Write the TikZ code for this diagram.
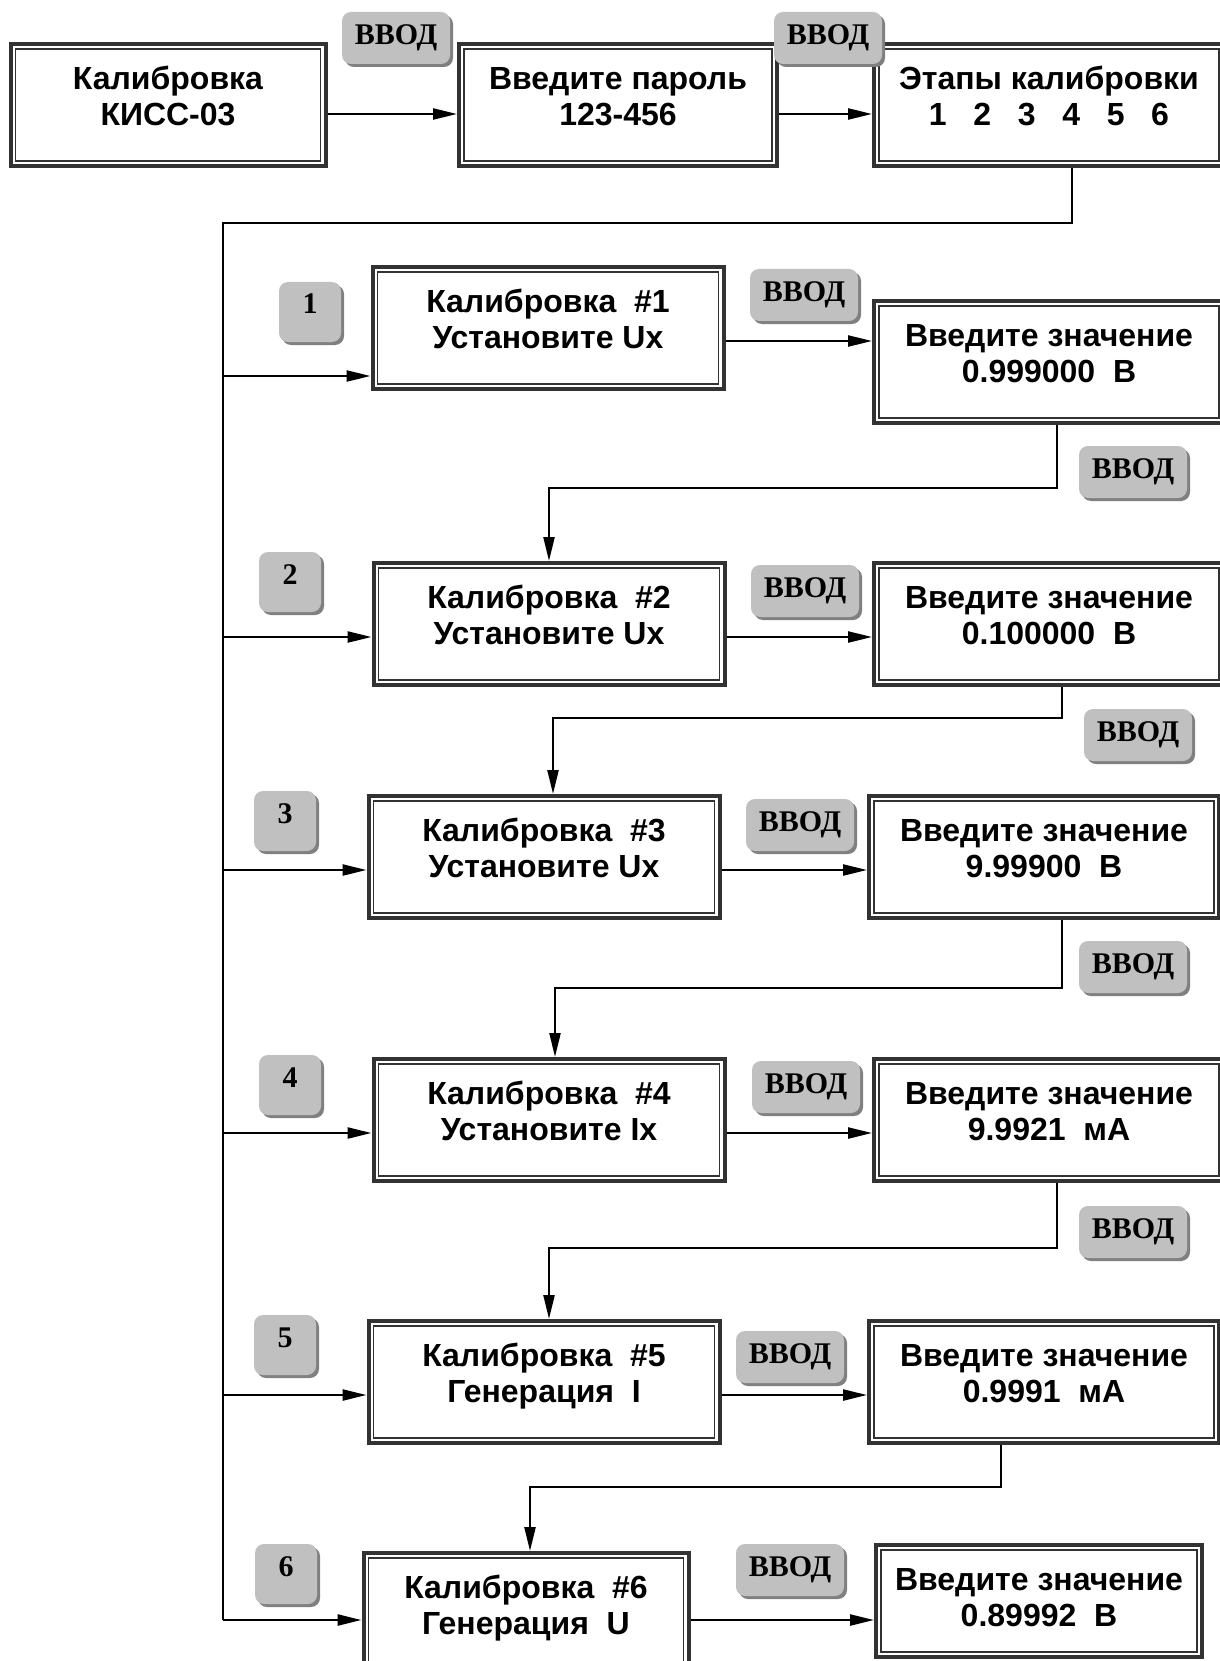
\documentclass[tikz,border=0pt]{standalone}
\usepackage{fontspec}
\setmainfont{Liberation Serif}
\setsansfont{Liberation Sans}
\usepackage{tikz}
\usetikzlibrary{shapes}
\usetikzlibrary{arrows.meta}
\usetikzlibrary{shadows}
\definecolor{keygray}{RGB}{192,192,192}
\definecolor{keyshade}{RGB}{128,128,128}
\definecolor{framegray}{RGB}{50,50,50}
\newcommand{\twolines}[3][10pt]{\begin{tabular}{@{}c@{}}#2\\#3\\[#1]\end{tabular}}

\begin{document}
\begin{tikzpicture}[x=1pt,y=-1pt,
  screen/.style={draw=framegray, line width=4pt, fill=white,
    minimum width=#1, minimum height=122pt, inner sep=0pt,
    font=\sffamily\bfseries\fontsize{32}{36}\selectfont,
    path picture={\draw[line width=1.2pt,framegray]
      ([shift={(5pt,5pt)}]path picture bounding box.south west) rectangle
      ([shift={(-5pt,-5pt)}]path picture bounding box.north east);}},
  screen/.default=350pt,
  enterkey/.style={fill=keygray, rounded corners=9pt, minimum width=108pt,
    minimum height=52pt, inner sep=0pt,
    font=\bfseries\fontsize{30}{32}\selectfont,
    drop shadow={shadow xshift=3pt, shadow yshift=-3pt, fill=keyshade, opacity=1}},
  numkey/.style={enterkey, minimum width=62pt, minimum height=60pt,
    text height=20pt, text depth=16pt},
  line/.style={line width=2.4pt},
  flow/.style={line, -{Triangle[length=24pt,width=11pt]}}]
\useasboundingbox (0,0) rectangle (1219,1661);
%%%%%%%%% top row
\node[screen=315pt] (start) at (168,105) {\twolines{Калибровка}{КИСС-03}};
\node[screen=318pt] (pass) at (618,105) {\twolines{Введите пароль}{123-456}};
\node[screen] (stages) at (1049,105) {\twolines{Этапы калибровки}{1\ \ \ 2\ \ \ 3\ \ \ 4\ \ \ 5\ \ \ 6}};
\draw[flow] ([yshift=-9pt]start.east) -- ([yshift=-9pt]pass.west);
\draw[flow] ([yshift=-9pt]pass.east) -- ([yshift=-9pt]stages.west);
\node[enterkey] (enter0) at (396,38) {ВВОД};
\node[enterkey] (enter1) at (828,38) {ВВОД};
% trunk
\coordinate (ttop) at (223,223);
\coordinate (tbot) at (223,1620);
\draw[line] ([xshift=23pt]stages.south) |- (ttop) -- (tbot);
%%%%%%%%% steps 1-6
\node[screen=351pt] (l1) at (548,328) {\twolines{Калибровка\ \ \#1}{Установите Ux}};
\node[screen] (r1) at (1049,362) {\twolines{Введите значение}{0.999000\ \ В}};
\node[screen=351pt] (l2) at (549,624) {\twolines{Калибровка\ \ \#2}{Установите Ux}};
\node[screen] (r2) at (1049,624) {\twolines{Введите значение}{0.100000\ \ В}};
\node[screen=351pt] (l3) at (544,857) {\twolines{Калибровка\ \ \#3}{Установите Ux}};
\node[screen] (r3) at (1044,857) {\twolines{Введите значение}{9.99900\ \ В}};
\node[screen=351pt] (l4) at (549,1120) {\twolines{Калибровка\ \ \#4}{Установите Ix}};
\node[screen] (r4) at (1049,1120) {\twolines{Введите значение}{9.9921\ \ мА}};
\node[screen=351pt] (l5) at (544,1382) {\twolines{Калибровка\ \ \#5}{Генерация\ \ I}};
\node[screen] (r5) at (1044,1382) {\twolines{Введите значение}{0.9991\ \ мА}};
\node[screen=325pt] (l6) at (526,1614) {\twolines{Калибровка\ \ \#6}{Генерация\ \ U}};
\node[screen=326pt, minimum height=112pt] (r6) at (1039,1601) {\twolines[0pt]{Введите значение}{0.89992\ \ В}};
% from the trunk
\draw[flow] ([yshift=-48pt]l1.west -| ttop) -- ([yshift=-48pt]l1.west);
\draw[flow] ([yshift=-13pt]l2.west -| ttop) -- ([yshift=-13pt]l2.west);
\draw[flow] ([yshift=-13pt]l3.west -| ttop) -- ([yshift=-13pt]l3.west);
\draw[flow] ([yshift=-13pt]l4.west -| ttop) -- ([yshift=-13pt]l4.west);
\draw[flow] ([yshift=-13pt]l5.west -| ttop) -- ([yshift=-13pt]l5.west);
\draw[flow] ([yshift=-6pt]l6.west -| ttop) -- ([yshift=-6pt]l6.west);
% step to value
\draw[flow] ([yshift=-13pt]l1.east) -- ([yshift=-13pt]l1.east -| r1.west);
\draw[flow] ([yshift=-13pt]l2.east) -- ([yshift=-13pt]l2.east -| r2.west);
\draw[flow] ([yshift=-13pt]l3.east) -- ([yshift=-13pt]l3.east -| r3.west);
\draw[flow] ([yshift=-13pt]l4.east) -- ([yshift=-13pt]l4.east -| r4.west);
\draw[flow] ([yshift=-13pt]l5.east) -- ([yshift=-13pt]l5.east -| r5.west);
\draw[flow] ([yshift=-6pt]l6.east) -- ([yshift=-6pt]l6.east -| r6.west);
% value to next step
\draw[flow] ([xshift=8pt]r1.south) |- ([yshift=73pt]l2.north) -- (l2.north);
\draw[flow] ([xshift=13pt]r2.south) |- ([xshift=9pt,yshift=76pt]l3.north) -- ([xshift=9pt]l3.north);
\draw[flow] ([xshift=18pt]r3.south) |- ([xshift=6pt,yshift=69pt]l4.north) -- ([xshift=6pt]l4.north);
\draw[flow] ([xshift=8pt]r4.south) |- ([xshift=5pt,yshift=71pt]l5.north) -- ([xshift=5pt]l5.north);
\draw[flow] ([xshift=-43pt]r5.south) |- ([xshift=4pt,yshift=64pt]l6.north) -- ([xshift=4pt]l6.north);
%%%%%%%%% keys
\node[numkey] (n1) at (310,312) {1};
\node[numkey] (n2) at (290,582) {2};
\node[numkey] (n3) at (285,821) {3};
\node[numkey] (n4) at (290,1085) {4};
\node[numkey] (n5) at (285,1345) {5};
\node[numkey] (n6) at (286,1574) {6};
\node[enterkey] (ea1) at (804,295) {ВВОД};
\node[enterkey] (eb1) at (1133,472) {ВВОД};
\node[enterkey] (ea2) at (805,591) {ВВОД};
\node[enterkey] (eb2) at (1138,735) {ВВОД};
\node[enterkey] (ea3) at (800,825) {ВВОД};
\node[enterkey] (eb3) at (1133,967) {ВВОД};
\node[enterkey] (ea4) at (806,1087) {ВВОД};
\node[enterkey] (eb4) at (1133,1232) {ВВОД};
\node[enterkey] (ea5) at (790,1357) {ВВОД};
\node[enterkey] (ea6) at (790,1570) {ВВОД};
\end{tikzpicture}
\end{document}
